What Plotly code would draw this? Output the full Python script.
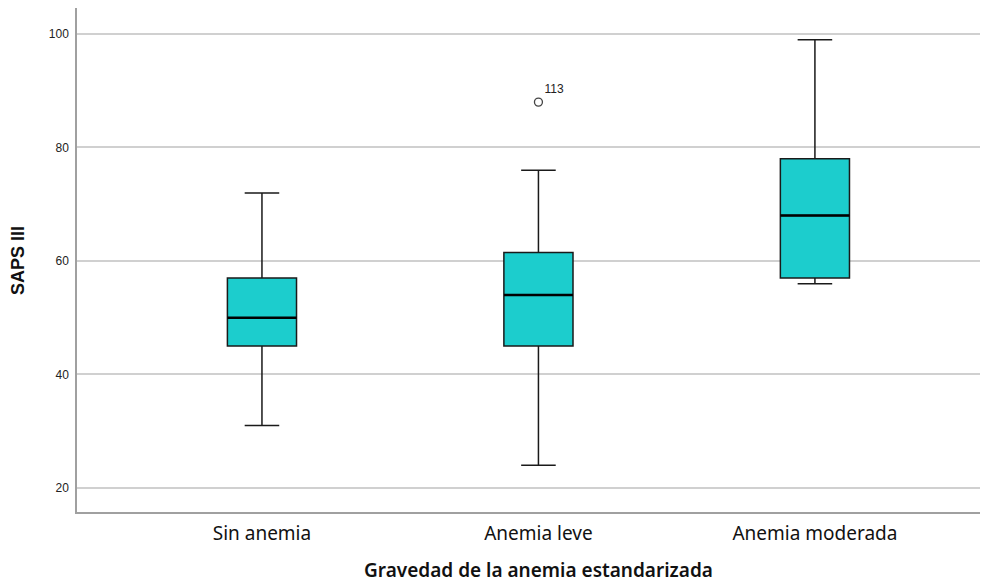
import plotly.graph_objects as go

categories = ["Sin anemia", "Anemia leve", "Anemia moderada"]
lower_whisker = [31, 24, 56]
q1 = [45, 45, 57]
median = [50, 54, 68]
q3 = [57, 61.5, 78]
upper_whisker = [72, 76, 99]
outlier_cat = [1]
outlier_val = [88]
outlier_label = ["113"]
y_ticks = [20, 40, 60, 80, 100]

pos = list(range(len(categories)))
box_w = 0.25

fig = go.Figure()
fig.add_trace(go.Box(
    x=pos, q1=q1, median=median, q3=q3,
    lowerfence=lower_whisker, upperfence=upper_whisker,
    width=box_w, whiskerwidth=0.5,
    fillcolor="#1ccdcd",
    line=dict(color="#1a1a1a", width=1.5),
    boxpoints=False, showlegend=False, hoverinfo="skip",
))
for i, m in zip(pos, median):
    fig.add_trace(go.Scatter(
        x=[i - box_w / 2, i + box_w / 2], y=[m, m], mode="lines",
        line=dict(color="#000000", width=2.5), showlegend=False, hoverinfo="skip",
    ))
fig.add_trace(go.Scatter(
    x=outlier_cat, y=outlier_val, mode="markers+text",
    marker=dict(symbol="circle-open", size=8, color="#444444", line=dict(width=1.3)),
    text=outlier_label, textposition="top right",
    textfont=dict(family="Liberation Sans, Arial", size=12, color="#222222"),
    showlegend=False, hoverinfo="skip",
))

# page body has an 8px margin; compensate so the plot area sits at x 77..988, y 8..512
fig.update_layout(
    width=980, height=577,
    margin=dict(l=69, r=0, t=0, b=73),
    paper_bgcolor="white", plot_bgcolor="white",
    xaxis=dict(
        range=[-0.669, 2.626], tickvals=pos, ticktext=categories,
        showgrid=False, zeroline=False, automargin=False,
        showline=True, linecolor="#a0a0a0", linewidth=1.5,
        tickfont=dict(family="Noto Sans, Open Sans", size=19, color="#111111"),
        ticklabelstandoff=3,
    ),
    yaxis=dict(
        range=[15.77, 104.58], tickvals=y_ticks,
        showgrid=True, gridcolor="#d0d0d0", gridwidth=1.5, zeroline=False,
        automargin=False,
        showline=True, linecolor="#a0a0a0", linewidth=1.5,
        tickfont=dict(family="Liberation Sans, Arial", size=12, color="#222222"),
        ticks="", ticklabelstandoff=4,
    ),
    annotations=[
        dict(text="Gravedad de la anemia estandarizada", xref="x", yref="paper",
             x=1, y=(512 - 570) / 504, xanchor="center", yanchor="middle", showarrow=False,
             font=dict(family="Noto Sans, Open Sans", size=19, color="#111111", weight=600)),
        dict(text="<b>SAPS III</b>", xref="paper", yref="paper",
             x=(18 - 77) / 911, y=(512 - 261) / 504, xanchor="center", yanchor="middle",
             textangle=-90, showarrow=False,
             font=dict(family="Liberation Sans, Arial", size=18, color="#111111")),
    ],
)

fig.write_html("out.html")
